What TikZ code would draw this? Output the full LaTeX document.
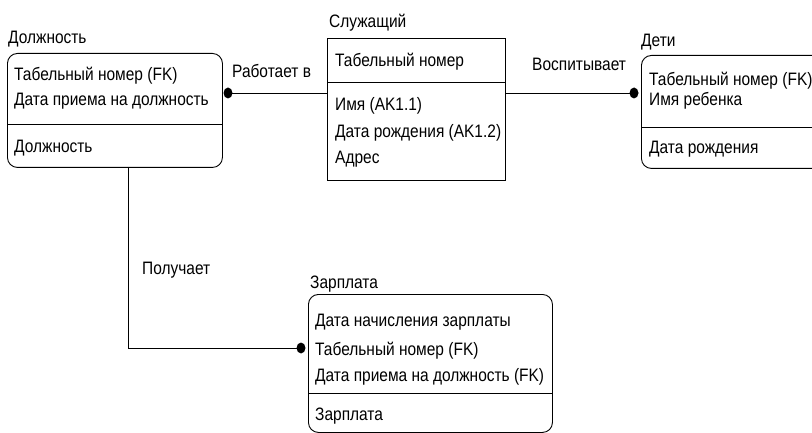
\documentclass[tikz,border=0pt]{standalone}
\usepackage{fontspec}
\setmainfont{Liberation Sans}[FakeStretch=0.86]
\begin{document}
\begin{tikzpicture}[x=1pt,y=-1pt,
  ent/.style={draw, line width=0.9pt, inner sep=0pt, anchor=north west},
  rnd/.style={ent, rounded corners=10pt},
  txt/.style={anchor=base west, inner sep=0pt, font=\fontsize{18}{20}\selectfont},
  dv/.style={line width=0.9pt},
  conn/.style={line width=0.9pt}]
\useasboundingbox (0,0) rectangle (812,433);
\clip (0,0) rectangle (812,433);
% Должность
\node[txt] (t1) at (8,44) {Должность};
\node[rnd, minimum width=215pt, minimum height=114pt] (dolz) at (7,53) {};
\draw[dv] (7,124) -- (222,124);
\node[txt] (d1) at (14,81) {Табельный номер (FK)};
\node[txt] (d2) at (14,106) {Дата приема на должность};
\node[txt] (d3) at (14,153) {Должность};
% Служащий
\node[txt] (t2) at (329,28) {Служащий};
\node[ent, minimum width=178pt, minimum height=142pt] (sluz) at (327,38) {};
\draw[dv] (327,82) -- (505,82);
\node[txt] (s1) at (335,67) {Табельный номер};
\node[txt] (s2) at (335,111) {Имя (AK1.1)};
\node[txt] (s3) at (335,138) {Дата рождения (AK1.2)};
\node[txt] (s4) at (335,164) {Адрес};
% Дети
\node[txt] (t3) at (641,47) {Дети};
\node[rnd, minimum width=200pt, minimum height=113pt] (deti) at (641,55) {};
\draw[dv] (641,127) -- (812,127);
\node[txt] (c1) at (649,86) {Табельный номер (FK)};
\node[txt] (c2) at (649,106) {Имя ребенка};
\node[txt] (c3) at (649,154) {Дата рождения};
% Зарплата
\node[txt] (t4) at (310,288) {Зарплата};
\node[rnd, minimum width=244pt, minimum height=138pt] (zarp) at (308,294) {};
\draw[dv] (308,393) -- (552,393);
\node[txt] (z1) at (315,326) {Дата начисления зарплаты};
\node[txt] (z2) at (315,355) {Табельный номер (FK)};
\node[txt] (z3) at (315,381) {Дата приема на должность (FK)};
\node[txt] (z4) at (315,420) {Зарплата};
% connectors
\coordinate (p1) at (228,93);
\coordinate (p2) at (634,93);
\coordinate (p3) at (301,348);
\coordinate (b1) at (128,167);
\coordinate (b2) at (128,348);
\draw[conn] (p1) -- (sluz.west |- p1);
\draw[conn] (sluz.east |- p2) -- (p2);
\draw[conn] (b1) -- (b2) -- (p3);
\fill (p1) ellipse (4.5pt and 5.5pt);
\fill (p2) ellipse (4.5pt and 5.5pt);
\fill (p3) ellipse (4.5pt and 5.5pt);
\node[txt] (l1) at (232,78) {Работает в};
\node[txt] (l2) at (532,71) {Воспитывает};
\node[txt] (l3) at (142,274) {Получает};
\end{tikzpicture}
\end{document}
